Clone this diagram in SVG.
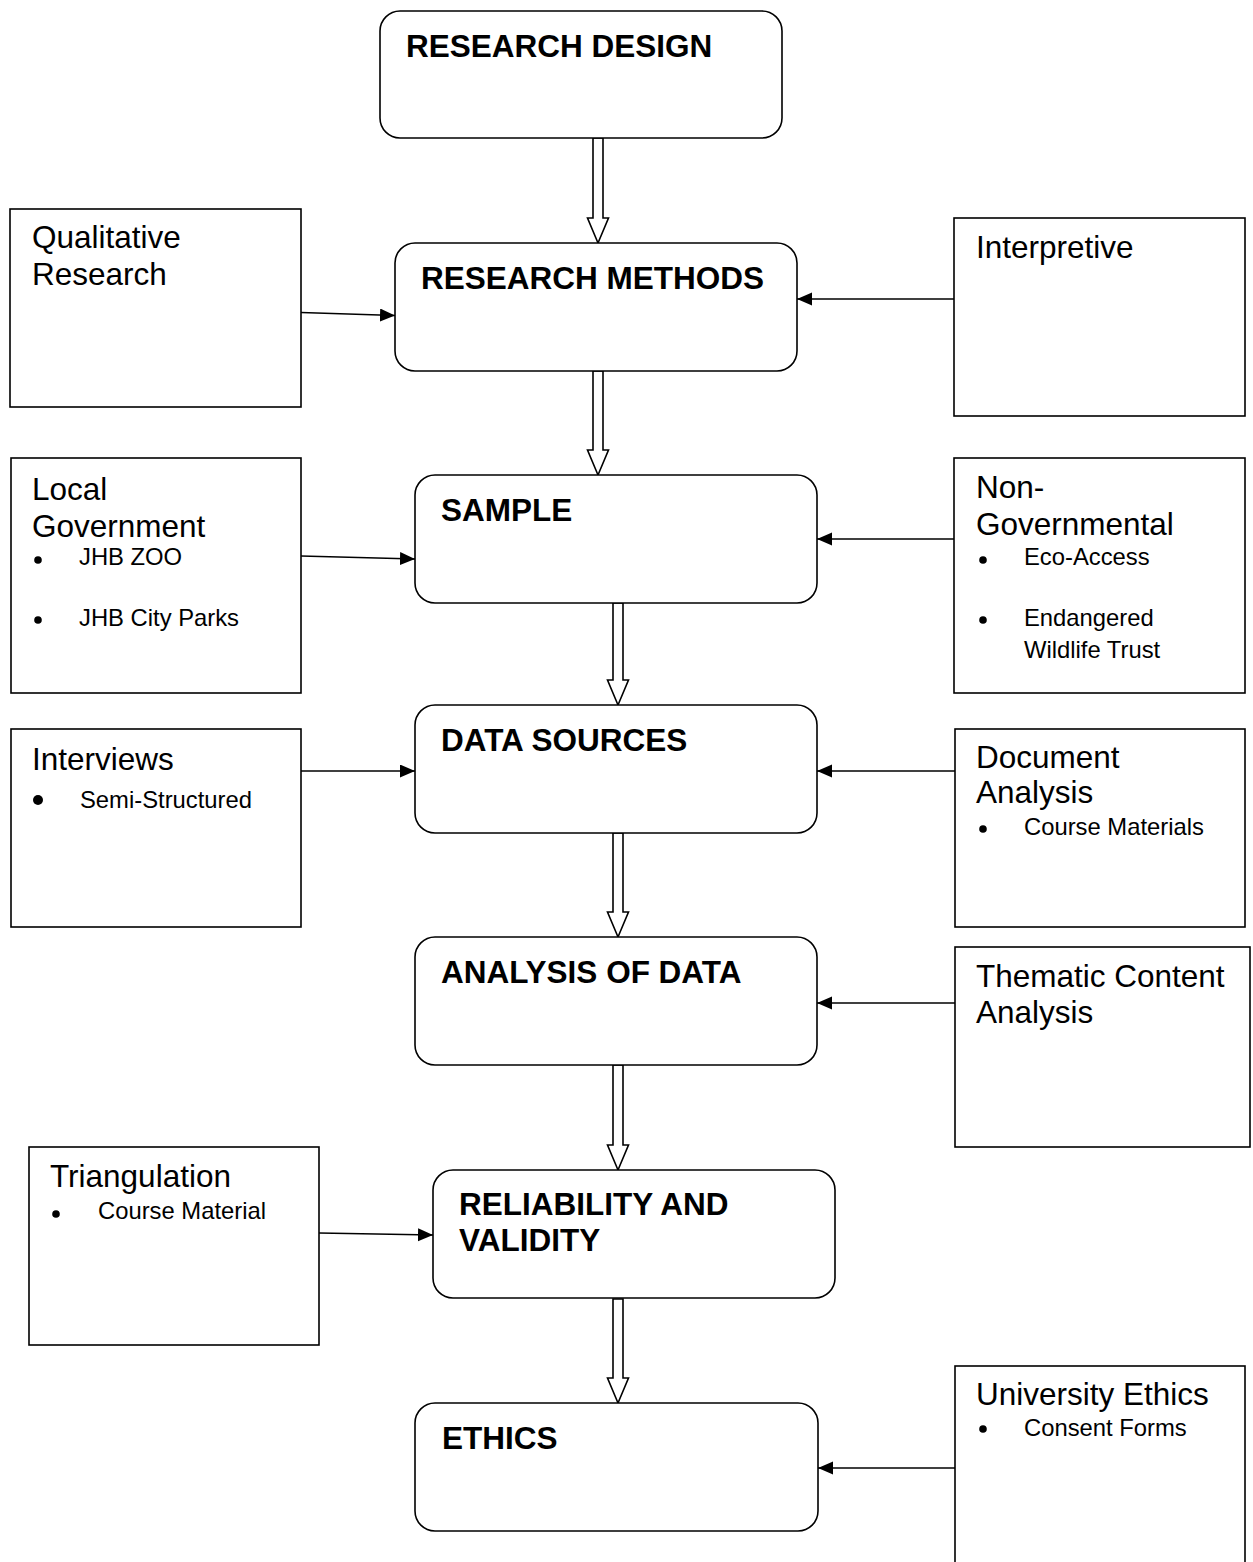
<svg xmlns="http://www.w3.org/2000/svg" width="1253" height="1562" viewBox="0 0 1253 1562">
<style>
.main{fill:#fff;stroke:#000;stroke-width:1.6}
.side{fill:#fff;stroke:#000;stroke-width:1.6}
.t{font-family:"Liberation Sans",Arial,sans-serif;font-weight:bold;font-size:31.5px;fill:#000}
.s{font-family:"Liberation Sans",Arial,sans-serif;font-size:31.5px;fill:#000}
.b{font-family:"Liberation Sans",Arial,sans-serif;font-size:23.8px;fill:#000}
.hollow{fill:#fff;stroke:#000;stroke-width:1.6;stroke-linejoin:miter}
.con{stroke:#000;stroke-width:1.6;fill:none;marker-end:url(#ah)}
</style>
<defs>
<marker id="ah" markerUnits="userSpaceOnUse" markerWidth="16" markerHeight="14" refX="15" refY="6.5" orient="auto">
<path d="M0,0 L15,6.5 L0,13 z" fill="#000"/>
</marker>
</defs>
<rect width="1253" height="1562" fill="#fff"/>

<g id="connectors">
<path class="hollow" d="M593,138 L603,138 L603,218 L608.5,218 L598,243 L587.5,218 L593,218 Z"/>
<path class="hollow" d="M593,371 L603,371 L603,450 L608.5,450 L598,475 L587.5,450 L593,450 Z"/>
<path class="hollow" d="M613,603 L623,603 L623,680 L628.5,680 L618,705 L607.5,680 L613,680 Z"/>
<path class="hollow" d="M613,833 L623,833 L623,912 L628.5,912 L618,937 L607.5,912 L613,912 Z"/>
<path class="hollow" d="M613,1065 L623,1065 L623,1145 L628.5,1145 L618,1170 L607.5,1145 L613,1145 Z"/>
<path class="hollow" d="M613,1299 L623,1299 L623,1378 L628.5,1378 L618,1403 L607.5,1378 L613,1378 Z"/>
<line class="con" x1="301" y1="312.5" x2="395" y2="315.5"/>
<line class="con" x1="954" y1="299" x2="797" y2="299"/>
<line class="con" x1="301" y1="556" x2="415" y2="559"/>
<line class="con" x1="954" y1="539" x2="817" y2="539"/>
<line class="con" x1="301" y1="771" x2="415" y2="771"/>
<line class="con" x1="955" y1="771" x2="817" y2="771"/>
<line class="con" x1="955" y1="1003" x2="817" y2="1003"/>
<line class="con" x1="319" y1="1233" x2="433" y2="1235"/>
<line class="con" x1="955" y1="1468" x2="818" y2="1468"/>
</g>

<g id="research-design">
<rect class="main" x="380" y="11" width="402" height="127" rx="20"/>
<text class="t" x="406" y="57">RESEARCH DESIGN</text>
</g>
<g id="research-methods">
<rect class="main" x="395" y="243" width="402" height="128" rx="20"/>
<text class="t" x="421" y="289">RESEARCH METHODS</text>
</g>
<g id="sample">
<rect class="main" x="415" y="475" width="402" height="128" rx="20"/>
<text class="t" x="441" y="521">SAMPLE</text>
</g>
<g id="data-sources">
<rect class="main" x="415" y="705" width="402" height="128" rx="20"/>
<text class="t" x="441" y="751">DATA SOURCES</text>
</g>
<g id="analysis-of-data">
<rect class="main" x="415" y="937" width="402" height="128" rx="20"/>
<text class="t" x="441" y="983">ANALYSIS OF DATA</text>
</g>
<g id="reliability-validity">
<rect class="main" x="433" y="1170" width="402" height="128" rx="20"/>
<text class="t" x="459" y="1215">RELIABILITY AND</text>
<text class="t" x="459" y="1251">VALIDITY</text>
</g>
<g id="ethics">
<rect class="main" x="415" y="1403" width="403" height="128" rx="20"/>
<text class="t" x="442" y="1449">ETHICS</text>
</g>

<g id="qualitative">
<rect class="side" x="10" y="209" width="291" height="198"/>
<text class="s" x="32" y="248">Qualitative</text>
<text class="s" x="32" y="285">Research</text>
</g>
<g id="interpretive">
<rect class="side" x="954" y="218" width="291" height="198"/>
<text class="s" x="976" y="258">Interpretive</text>
</g>
<g id="local-government">
<rect class="side" x="11" y="458" width="290" height="235"/>
<text class="s" x="32" y="500">Local</text>
<text class="s" x="32" y="537">Government</text>
<circle cx="38" cy="560" r="3.8"/>
<text class="b" x="79" y="565">JHB ZOO</text>
<circle cx="38" cy="620" r="3.8"/>
<text class="b" x="79" y="626">JHB City Parks</text>
</g>
<g id="non-governmental">
<rect class="side" x="954" y="458" width="291" height="235"/>
<text class="s" x="976" y="498">Non-</text>
<text class="s" x="976" y="535">Governmental</text>
<circle cx="983" cy="560" r="3.8"/>
<text class="b" x="1024" y="565">Eco-Access</text>
<circle cx="983" cy="620" r="3.8"/>
<text class="b" x="1024" y="626">Endangered</text>
<text class="b" x="1024" y="658">Wildlife Trust</text>
</g>
<g id="interviews">
<rect class="side" x="11" y="729" width="290" height="198"/>
<text class="s" x="32" y="770">Interviews</text>
<circle cx="38" cy="800" r="5"/>
<text class="b" x="80" y="808">Semi-Structured</text>
</g>
<g id="document-analysis">
<rect class="side" x="955" y="729" width="290" height="198"/>
<text class="s" x="976" y="768">Document</text>
<text class="s" x="976" y="803">Analysis</text>
<circle cx="983" cy="829" r="3.8"/>
<text class="b" x="1024" y="835">Course Materials</text>
</g>
<g id="thematic">
<rect class="side" x="955" y="947" width="295" height="200"/>
<text class="s" x="976" y="987">Thematic Content</text>
<text class="s" x="976" y="1023">Analysis</text>
</g>
<g id="triangulation">
<rect class="side" x="29" y="1147" width="290" height="198"/>
<text class="s" x="50" y="1187">Triangulation</text>
<circle cx="56" cy="1214" r="3.8"/>
<text class="b" x="98" y="1219">Course Material</text>
</g>
<g id="university-ethics">
<rect class="side" x="955" y="1366" width="290" height="210"/>
<text class="s" x="976" y="1405">University Ethics</text>
<circle cx="983" cy="1429" r="3.8"/>
<text class="b" x="1024" y="1436">Consent Forms</text>
</g>
</svg>
